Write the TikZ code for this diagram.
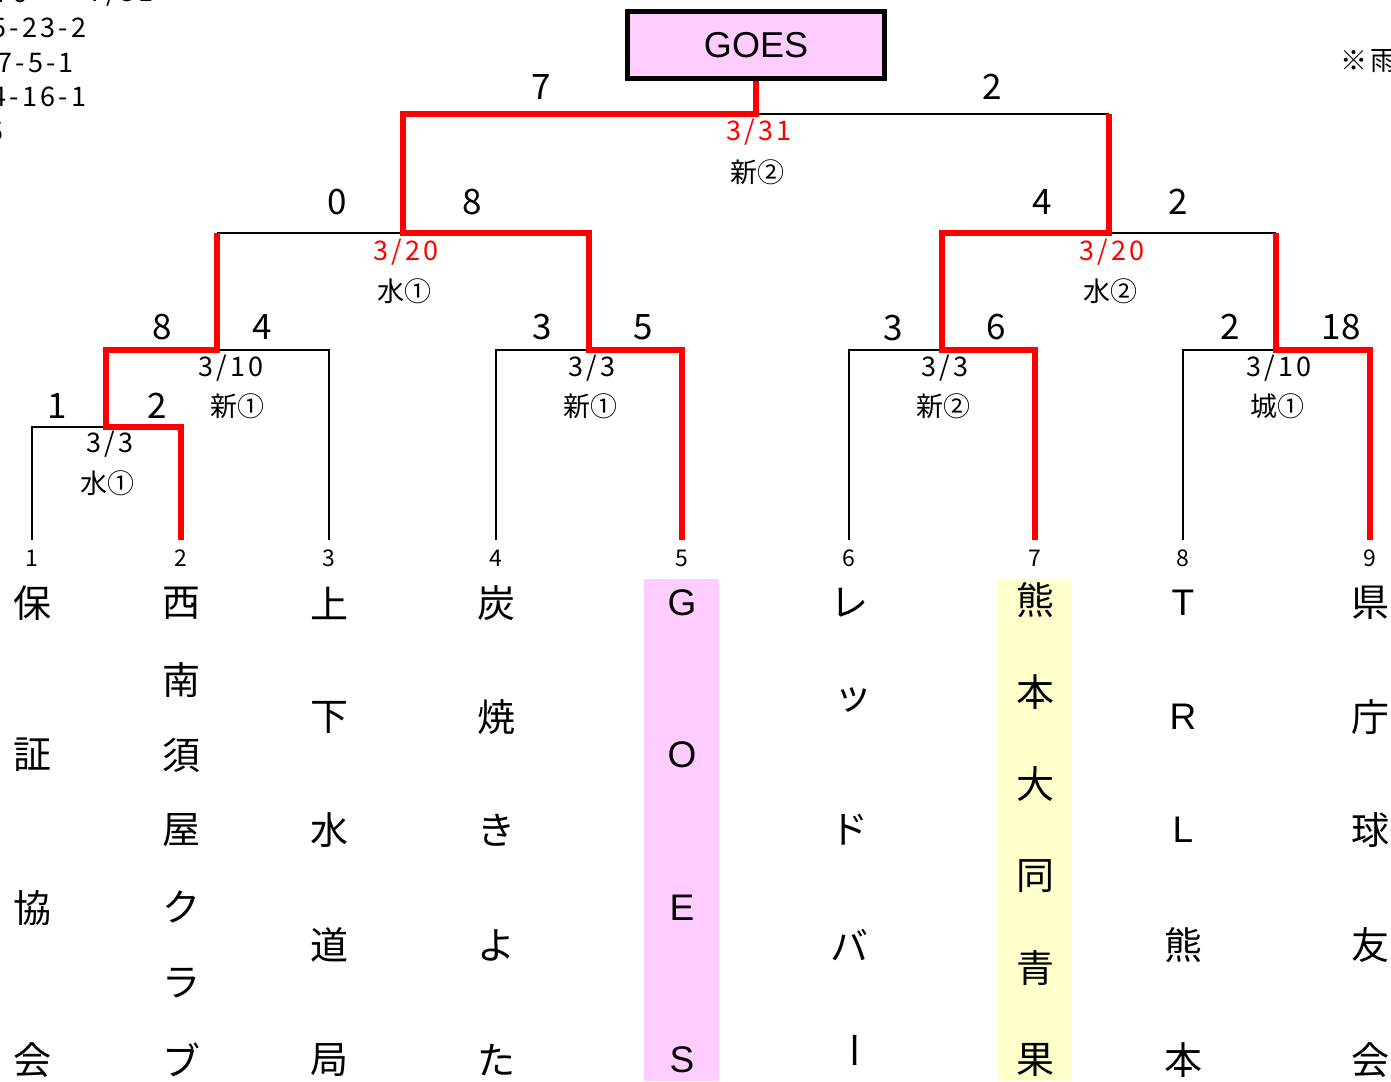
\documentclass[tikz,border=0pt]{standalone}
\usepackage{fontspec}
\setmainfont{Noto Sans CJK JP}
\newfontfamily\jp{Noto Sans CJK JP}
\newfontfamily\dfont[LetterSpace=12]{Noto Sans CJK JP}
\newfontfamily\lat{Liberation Sans}
\definecolor{pinkbg}{HTML}{FFCCFF}
\definecolor{yelbg}{HTML}{FFFFCC}
\definecolor{wred}{HTML}{FF0000}
\begin{document}
\begin{tikzpicture}[x=1pt,y=-1pt,
  thin line/.style={draw=black,line width=2pt},
  win/.style={draw=wred,line width=6pt},
  score/.style={font=\jp\fontsize{35}{35}\selectfont,inner sep=0pt},
  date/.style={font=\dfont\fontsize{27}{27}\selectfont,inner sep=0pt},
  venue/.style={font=\jp\fontsize{27}{27}\selectfont,inner sep=0pt},
  rdate/.style={date,text=wred},
  lnum/.style={font=\jp\fontsize{23}{23}\selectfont,inner sep=0pt},
  tch/.style={font=\jp\fontsize{38}{38}\selectfont,inner sep=0pt},
  lch/.style={font=\lat\fontsize{37}{37}\selectfont,inner sep=0pt},
  note/.style={font=\dfont\fontsize{27}{27}\selectfont,inner sep=0pt,anchor=west}]
\useasboundingbox (0,0) rectangle (1391,1081);
\fill[white] (0,0) rectangle (1391,1081);
% highlight columns
\fill[pinkbg] (644,579) rectangle (719,1081);
\fill[yelbg] (997,579) rectangle (1071,1081);
% leaf coordinates
\foreach \n/\x in {1/32,2/181,3/329,4/496,5/682,6/849,7/1035,8/1183,9/1370}{
  \coordinate (L\n) at (\x,540);
  \node[lnum] (N\n) at (\x,558) {\n};
}
% match points
\coordinate (m1l) at (32,427); \coordinate (m1r) at (181,427); \coordinate (m1c) at (106,427);
\coordinate (m2l) at (106,350); \coordinate (m2r) at (329,350); \coordinate (m2c) at (217,350);
\coordinate (m3l) at (496,350); \coordinate (m3r) at (682,350); \coordinate (m3c) at (589,350);
\coordinate (m4l) at (849,350); \coordinate (m4r) at (1035,350); \coordinate (m4c) at (942,350);
\coordinate (m5l) at (1183,350); \coordinate (m5r) at (1370,350); \coordinate (m5c) at (1276,350);
\coordinate (s1l) at (217,233); \coordinate (s1r) at (589,233); \coordinate (s1c) at (403,233);
\coordinate (s2l) at (942,233); \coordinate (s2r) at (1276,233); \coordinate (s2c) at (1109,233);
\coordinate (fl) at (403,114); \coordinate (fr) at (1109,114); \coordinate (fc) at (756,114);
% GOES box
\node[draw=black,line width=5pt,fill=pinkbg,minimum width=257pt,minimum height=66pt,inner sep=0pt,
  font=\lat\fontsize{36}{36}\selectfont] (champ) at (756,45) {GOES};
% black thin lines
\draw[thin line] (L1) -- (m1l) -- (m1c);
\draw[thin line] (L3) -- (m2r) -- (m2c);
\draw[thin line] (L4) -- (m3l) -- (m3c);
\draw[thin line] (L6) -- (m4l) -- (m4c);
\draw[thin line] (L8) -- (m5l) -- (m5c);
\draw[thin line] (s1l) -- (s1c);
\draw[thin line] (s2c) -- (s2r);
\draw[thin line] (fc) -- (fr);
% red winner paths
\draw[win,line join=miter] (L2) -- (m1r) -- (m1c) -- (m2l) -- (m2c) -- (s1l);
\draw[win,line join=miter] (L5) -- (m3r) -- (m3c) -- (s1r) -- (s1c) -- (fl) -- (fc) -- (champ.south);
\draw[win,line join=miter] (L7) -- (m4r) -- (m4c) -- (s2l) -- (s2c) -- (fr);
\draw[win,line join=miter] (L9) -- (m5r) -- (m5c) -- (s2r);
% scores
\node[score] (sc1a) at (57,406) {1};
\node[score] (sc1b) at (157,406) {2};
\node[score] (sc2a) at (162,327) {8};
\node[score] (sc2b) at (262,327) {4};
\node[score] (sc3a) at (542,327) {3};
\node[score] (sc3b) at (643,327) {5};
\node[score] (sc4a) at (893,328) {3};
\node[score] (sc4b) at (996,327) {6};
\node[score] (sc5a) at (1230,327) {2};
\node[score] (sc5b) at (1341,327) {18};
\node[score] (ss1a) at (337,202) {0};
\node[score] (ss1b) at (472,202) {8};
\node[score] (ss2a) at (1042,202) {4};
\node[score] (ss2b) at (1178,202) {2};
\node[score] (sfa) at (541,87) {7};
\node[score] (sfb) at (992,87) {2};
% dates and venues
\node[date] (d1) at (110,444) {3/3};
\node[venue] (v1) at (107,483) {水①};
\node[date] (d2) at (231,368) {3/10};
\node[venue] (v2) at (237,406) {新①};
\node[date] (d3) at (592,368) {3/3};
\node[venue] (v3) at (590,406) {新①};
\node[date] (d4) at (945,368) {3/3};
\node[venue] (v4) at (943,406) {新②};
\node[date] (d5) at (1279,368) {3/10};
\node[venue] (v5) at (1277,406) {城①};
\node[rdate] (d6) at (406,252) {3/20};
\node[venue] (v6) at (404,291) {水①};
\node[rdate] (d7) at (1112,252) {3/20};
\node[venue] (v7) at (1110,291) {水②};
\node[rdate] (d8) at (759,132) {3/31};
\node[venue] (v8) at (757,172) {新②};
% team names
\foreach \c/\y [count=\i] in {保/603,証/755,協/908,会/1060}{\node[tch] (t1-\i) at (32,\y) {\c};}
\foreach \c/\y [count=\i] in {西/603,南/680,須/755,屋/830,ク/907,ラ/983,ブ/1060}{\node[tch] (t2-\i) at (181,\y) {\c};}
\foreach \c/\y [count=\i] in {上/603,下/717,水/830,道/945,局/1060}{\node[tch] (t3-\i) at (329,\y) {\c};}
\foreach \c/\y [count=\i] in {炭/603,焼/717,き/830,よ/945,た/1060}{\node[tch] (t4-\i) at (496,\y) {\c};}
\foreach \c/\y [count=\i] in {G/603,O/755,E/908,S/1060}{\node[lch] (t5-\i) at (682,\y) {\c};}
\node[tch] (t6-1) at (849,603) {レ};
\node[tch] (t6-2) at (853,700) {ッ};
\node[tch] (t6-3) at (849,830) {ド};
\node[tch] (t6-4) at (849,945) {バ};
\node[tch,rotate=-90] (t6-5) at (849,1050) {ー};
\foreach \c/\y [count=\i] in {熊/600,本/692,大/784,同/876,青/968,果/1060}{\node[tch] (t7-\i) at (1035,\y) {\c};}
\foreach \c/\y [count=\i] in {T/603,R/717,L/830}{\node[lch] (t8-\i) at (1183,\y) {\c};}
\node[tch] (t8-4) at (1183,945) {熊};
\node[tch] (t8-5) at (1183,1060) {本};
\foreach \c/\y [count=\i] in {県/603,庁/717,球/830,友/945,会/1060}{\node[tch] (t9-\i) at (1370,\y) {\c};}
% notes (cut off at the edges, as in the reference)
\node[note] (n1) at (-9,28) {5-23-2};
\node[note] (n2) at (-3,63) {7-5-1};
\node[note] (n3) at (-9,97) {4-16-1};
\node[note] (n4) at (-12,132) {5};
\node[note] (n5) at (-6,-7) {76};
\node[note] (n6) at (88,-7) {7/31};
\node[note] (n7) at (1340,61) {※雨天};
\end{tikzpicture}
\end{document}
